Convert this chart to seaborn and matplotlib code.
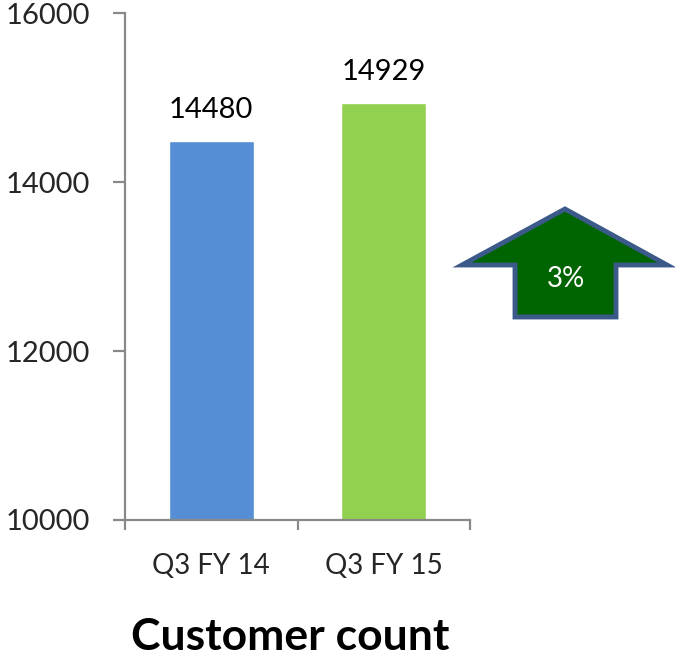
import matplotlib
matplotlib.use("Agg")
import matplotlib.pyplot as plt
import seaborn as sns
import pandas as pd
from matplotlib.patches import Polygon

categories = ["Q3 FY 14", "Q3 FY 15"]
values = [14480, 14929]
colors = ["#558ED5", "#92D050"]
y_ticks = [10000, 12000, 14000, 16000]
change_label = "3%"
title = "Customer count"

sns.set_theme(style="white")
plt.rcParams["font.family"] = ["Lato", "DejaVu Sans"]

W, H = 675, 659
fig = plt.figure(figsize=(W / 100, H / 100), dpi=100)
ax = fig.add_axes([125 / W, 1 - 520 / H, 345 / W, 507 / H])

df = pd.DataFrame({"cat": categories, "val": values})
sns.barplot(data=df, x="cat", y="val", hue="cat", palette=colors,
            width=0.49, legend=False, ax=ax, saturation=1)

ax.set_ylim(y_ticks[0], y_ticks[-1])
ax.set_xlim(-0.5, len(categories) - 0.5)
ax.set_yticks(y_ticks)
ax.set_xlabel("")
ax.set_ylabel("")
for s in ["top", "right"]:
    ax.spines[s].set_visible(False)
for s in ["left", "bottom"]:
    ax.spines[s].set_color("#898989")
    ax.spines[s].set_linewidth(1.6)

ax.tick_params(axis="y", which="major", direction="out", length=9, width=1.6,
               color="#898989", labelsize=21, pad=16, left=True)
ax.tick_params(axis="x", which="major", length=0, labelsize=20, pad=24)
ax.set_xticks([i - 0.5 for i in range(len(categories) + 1)], minor=True)
ax.tick_params(axis="x", which="minor", direction="out", length=7, width=1.6,
               color="#898989", bottom=True)

for i, v in enumerate(values):
    ax.annotate(str(v), (i, v), xytext=(0, 13), textcoords="offset points",
                ha="center", va="bottom", fontsize=21, color="black")

# up arrow badge
pts = [(565, 209), (667, 265), (616, 265), (616, 317), (515, 317), (515, 265), (462, 265)]
poly = Polygon([(x / W, 1 - y / H) for x, y in pts], closed=True,
               transform=fig.transFigure, facecolor="#006400",
               edgecolor="#3B5A8A", linewidth=3.5, joinstyle="miter")
fig.patches.append(poly)
fig.text(566 / W, 1 - 279 / H, change_label, ha="center", va="center",
         color="white", fontsize=20)

fig.text(290 / W, 1 - 637 / H, title, ha="center", va="center",
         fontsize=32, fontweight="bold", color="black")

fig.savefig("out.png", dpi=100)
